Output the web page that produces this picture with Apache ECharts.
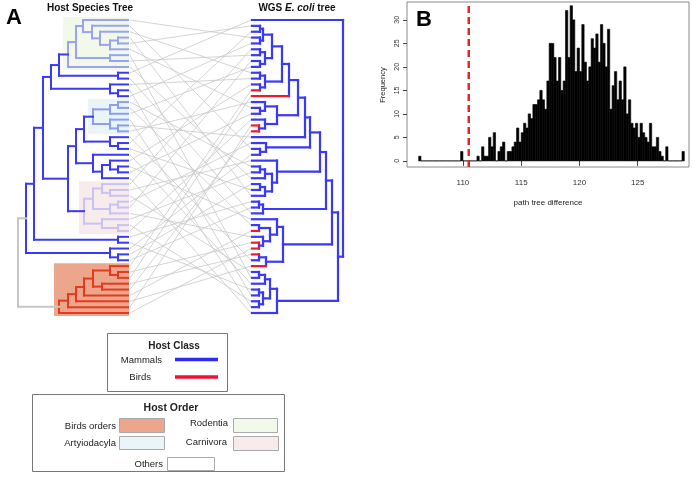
<!DOCTYPE html>
<html><head><meta charset="utf-8">
<script src="https://cdn.jsdelivr.net/npm/echarts@6/dist/echarts.min.js"></script>
<style>html,body{margin:0;padding:0;background:#fff}#c{width:696px;height:478px}</style>
</head><body><div id="c"></div>
<script>
// ---------------- DATA ----------------
// Host species tree: internal node = [depth, child, child], leaf = leaf index
const rodentia = [50, [58, [65, 0, [74, 1, [82, 2, [92, [100, 3, 4], 5]]]], [92, 6, 7]], 8];
const artiodactyla = [75, [92, [100, 14, 15], 16], [92, 17, [100, 18, 19]]];
const carnivora = [66, [75, [84, 28, [92, 29, 30]], [92, [100, 31, 32], 33]], [84, 34, [100, 35, 36]]];
const birds = [41, [50, [58, [66, [75, [92, 42, [100, 43, 44]], [84, 45, 46]], 47], 48], 49], 50];
const hostTree = [0,
  [8,
    [16,
      [25,
        [33, [41, rodentia, [100, 9, 10]], [92, 11, [100, 12, 13]]],
        [50,
          [58, [66, artiodactyla, [92, 20, [100, 21, 22]]], [75, 23, [84, [92, 24, [100, 25, 26]], 27]]],
          carnivora]],
      [100, 37, 38]],
    [92, 39, [100, 40, 41]]],
  birds];
const hostLeafDepth = 110;
const hostOrders = ['Rodentia', 'Artyiodacyla', 'Carnivora', 'Birds orders'];
const hostOrderFirstLeaf = [0, 14, 28, 42];
const hostOrderLastLeaf = [8, 19, 36, 50];
const hostOrderRootDepth = [rodentia[0], artiodactyla[0], carnivora[0], birds[0]];

// WGS E. coli tree
const ecL1 = [80, [83, 1, 2], [83, 3, 4]];
const ecL2 = [71, ecL1, [78, [83, 5, 6], [83, 7, 8]]];
const ecL3 = [61, ecL2, [78, [83, 9, 10], [83, 11, 12]]];
const ecU1 = [54, ecL3, 13];
const ecM = [66, [78, 14, [83, 15, 16]], [78, 17, [84, 18, 19]]];
const ecN5 = [33, [38, [45, ecU1, ecM], 20], [77, 21, [83, 22, 23]]];
const ecN6 = [66, 24, [71, [78, [83, 25, 26], 27], [78, [83, 28, 29], 30]]];
const ecN3 = [17, [23, ecN5, ecN6], [80, [84, 31, 32], 33]];
const ecR = [60, [66, 34, [73, [84, 35, 36], [80, 37, [84, 38, 39]]]], [77, [84, 40, 41], 42]];
const ecNB = [66, [73, [78, [84, 43, 44], 45], [80, [84, 46, 47], [84, 48, 49]]], 50];
const ecoliTree = [0, 0, [5, [11, ecN3, ecR], ecNB]];
const ecoliLeafDepth = 91;
const ecoliBirdLeaves = [12, 13, 18, 19, 36, 38, 39, 40, 42];

// host leaf i is linked to E. coli leaf hostToEcoli[i]
const hostToEcoli = [3, 22, 9, 30, 1, 15, 44, 6, 27, 0, 33, 10, 47, 4, 25, 35, 8, 49, 20, 14, 41, 2, 29, 45, 11, 34, 16, 50, 5, 24, 43, 21, 7, 37, 26, 48, 17, 31, 46, 23, 28, 32,
  12, 38, 13, 40, 19, 36, 42, 18, 39];

// Histogram (panel B)
const histStart = 106.2;
const histBinWidth = 0.2;
const histCounts = [1,0,0,0,0,0,0,0,0,0, 0,0,0,0,0,0,0,0,2,0, 0,0,0,0,0,1,0,3,1,1,
  5,3,6,0,2,3,4,0,2,2, 3,4,7,4,6,8,7,10,9,12, 12,13,15,13,11,17,25,25,22,17,
  22,15,17,32,22,33,30,19,24,19, 29,21,17,20,26,24,27,21,29,25, 20,28,11,16,19,13,17,13,20,10,
  13,8,7,8,5,8,6,5,4,8, 3,3,5,2,1,0,3,0,0,0, 0,0,0,2];
const observedDifference = 110.5;
const histXTicks = [110, 115, 120, 125];
const histYTicks = [0, 5, 10, 15, 20, 25, 30];

// ---------------- STYLE ----------------
const FONT = '"Liberation Sans", Arial, Helvetica, sans-serif';
const hostColors = {mam: '#3939f6', rod: '#98a3f2', art: '#8f9cf4', car: '#c8c3f3', bird: '#e43a22', root: '#c6c6c6'};
const ecoliColors = {mam: '#3939f6', bird: '#ee1a2c'};
const orderFill = ['#f2f8ea', '#eaf5f8', '#f8ebec', '#eca68b'];
const orderKeys = ['rod', 'art', 'car', 'bird'];

// ---------------- LAYOUT ----------------
function buildSegments(tree, leafDepth, leafKey, combine) {
  const segs = [];
  function walk(node) {
    if (typeof node === 'number') return {y: node, d: leafDepth, leaf: true, key: leafKey(node)};
    const d = node[0];
    const kids = node.slice(1).map(walk);
    let key = kids[0].key;
    for (let k = 1; k < kids.length; k++) key = combine(key, kids[k].key);
    const ys = kids.map(c => c.y);
    const y = ys.reduce((s, v) => s + v, 0) / ys.length;
    segs.push([d, Math.min(...ys), d, Math.max(...ys), key]);
    kids.forEach(c => segs.push([d, c.y, c.d, c.y, c.leaf ? c.key : key]));
    return {y, d, leaf: false, key};
  }
  walk(tree);
  return segs;
}
function hostLeafKey(i) {
  for (let k = 0; k < hostOrders.length; k++)
    if (i >= hostOrderFirstLeaf[k] && i <= hostOrderLastLeaf[k]) return orderKeys[k];
  return 'mam';
}
function hostCombine(a, b) {
  if (a === b) return a;
  if (a === 'bird' || b === 'bird' || a === 'root' || b === 'root') return 'root';
  return 'mam';
}
const hostSegs = buildSegments(hostTree, hostLeafDepth, hostLeafKey, hostCombine);
const ecoliSegs = buildSegments(ecoliTree, ecoliLeafDepth,
  i => ecoliBirdLeaves.indexOf(i) >= 0 ? 'bird' : 'mam',
  (a, b) => a === b ? a : 'mam');

function segSeries(segs, idx, colors, width) {
  return {
    type: 'custom', xAxisIndex: idx, yAxisIndex: idx, clip: false, z: 5, silent: true,
    data: segs.map(s => [s[0], s[1], s[2], s[3]]),
    encode: {x: [0, 2], y: [1, 3]},
    renderItem: (p, api) => {
      const s = segs[p.dataIndex];
      const a = api.coord([s[0], s[1]]), b = api.coord([s[2], s[3]]);
      return {type: 'line', shape: {x1: a[0], y1: a[1], x2: b[0], y2: b[1]},
        style: {stroke: colors[s[4]], lineWidth: width, lineCap: 'square'}};
    }
  };
}

const hidden = {show: false};
function hAxis(min, max, extra) { return Object.assign({type: 'value', min, max, show: false, splitLine: hidden}, extra || {}); }

const option = {
  animation: false,
  grid: [
    {left: 18, top: 20, width: 110, height: 293, show: false},
    {left: 252, top: 20, width: 91, height: 293, show: false},
    {left: 130, top: 20, width: 121, height: 293, show: false},
    {left: 407, top: 2, width: 282, height: 165, show: true, borderColor: '#8a8a8a', borderWidth: 1, backgroundColor: 'transparent'}
  ],
  xAxis: [
    hAxis(0, hostLeafDepth, {gridIndex: 0}),
    hAxis(0, ecoliLeafDepth, {gridIndex: 1, inverse: true}),
    hAxis(0, 1, {gridIndex: 2}),
    {type: 'value', gridIndex: 3, min: 105.2, max: 129.4, splitLine: hidden,
      axisLine: {show: false},
      axisTick: {show: true, customValues: histXTicks, length: 5, lineStyle: {color: '#444', width: 1}},
      axisLabel: {customValues: histXTicks, fontSize: 8, color: '#333', margin: 12, fontFamily: FONT}}
  ],
  yAxis: [
    hAxis(0, hostToEcoli.length - 1, {gridIndex: 0, inverse: true}),
    hAxis(0, hostToEcoli.length - 1, {gridIndex: 1, inverse: true}),
    hAxis(0, hostToEcoli.length - 1, {gridIndex: 2, inverse: true}),
    {type: 'value', gridIndex: 3, min: -1.3, max: 33.8, splitLine: hidden,
      axisLine: {show: false},
      axisTick: {show: true, customValues: histYTicks, length: 4, lineStyle: {color: '#444', width: 1}},
      axisLabel: {customValues: histYTicks, fontSize: 7, color: '#333', margin: 6, rotate: 90, fontFamily: FONT}}
  ],
  series: [
    // order highlight boxes
    {
      type: 'custom', xAxisIndex: 0, yAxisIndex: 0, clip: false, z: 1, silent: true,
      data: hostOrders.map((n, k) => [hostOrderRootDepth[k], hostOrderFirstLeaf[k], hostLeafDepth, hostOrderLastLeaf[k]]),
      encode: {x: [0, 2], y: [1, 3]},
      renderItem: (p, api) => {
        const a = api.coord([api.value(0), api.value(1) - 0.5]);
        const b = api.coord([api.value(2), api.value(3) + 0.5]);
        return {type: 'rect', shape: {x: a[0] - 5, y: a[1], width: b[0] - a[0] + 6, height: b[1] - a[1]},
          style: {fill: orderFill[p.dataIndex]}};
      }
    },
    // tanglegram links
    {
      type: 'custom', xAxisIndex: 2, yAxisIndex: 2, clip: false, z: 2, silent: true,
      data: hostToEcoli.map((j, i) => [i, j]),
      renderItem: (p, api) => {
        const a = api.coord([0, api.value(0)]), b = api.coord([1, api.value(1)]);
        return {type: 'line', shape: {x1: a[0], y1: a[1], x2: b[0], y2: b[1]},
          style: {stroke: '#c9c9c9', lineWidth: 0.8}};
      }
    },
    segSeries(hostSegs, 0, hostColors, 2),
    segSeries(ecoliSegs, 1, ecoliColors, 2.2),
    // histogram bars
    {
      type: 'custom', xAxisIndex: 3, yAxisIndex: 3, clip: false, z: 3, silent: true,
      data: histCounts.map((c, k) => [histStart + k * histBinWidth, c]),
      renderItem: (p, api) => {
        const x0 = api.value(0), c = api.value(1);
        const a = api.coord([x0, c]), b = api.coord([x0 + histBinWidth, 0]);
        return {type: 'rect', shape: {x: a[0], y: a[1], width: b[0] - a[0], height: b[1] - a[1]},
          style: {fill: '#000', stroke: '#000', lineWidth: 0.6}};
      }
    },
    {
      type: 'line', xAxisIndex: 3, yAxisIndex: 3, symbol: 'none', z: 4, silent: true,
      data: [[observedDifference, -1.3], [observedDifference, 33.8]],
      lineStyle: {color: '#e3262b', width: 2.5, type: [7, 4]}
    }
  ],
  graphic: [
    {type: 'text', x: 14, y: 18, style: {text: 'A', font: 'bold 22px ' + FONT, fill: '#000', textAlign: 'center', textVerticalAlign: 'middle', align: 'center', verticalAlign: 'middle'}},
    {type: 'text', x: 90, y: 8, style: {text: 'Host Species Tree', font: 'bold 10px ' + FONT, fill: '#111', textAlign: 'center', textVerticalAlign: 'middle', align: 'center', verticalAlign: 'middle'}},
    {type: 'text', x: 297, y: 8, style: {text: '{b|WGS }{i|E. coli}{b| tree}', fill: '#111', textAlign: 'center', textVerticalAlign: 'middle', align: 'center', verticalAlign: 'middle',
      rich: {b: {fontWeight: 'bold', fontSize: 10, fontFamily: FONT, fill: '#111'}, i: {fontWeight: 'bold', fontStyle: 'italic', fontSize: 10, fontFamily: FONT, fill: '#111'}}}},
    {type: 'text', x: 424, y: 20, style: {text: 'B', font: 'bold 22px ' + FONT, fill: '#000', textAlign: 'center', textVerticalAlign: 'middle', align: 'center', verticalAlign: 'middle'}},
    {type: 'text', x: 548, y: 203, style: {text: 'path tree difference', font: '8px ' + FONT, fill: '#222', textAlign: 'center', textVerticalAlign: 'middle', align: 'center', verticalAlign: 'middle'}},
    {type: 'text', x: 383, y: 85, rotation: Math.PI / 2, style: {text: 'Frequency', font: '7.5px ' + FONT, fill: '#222', textAlign: 'center', textVerticalAlign: 'middle', align: 'center', verticalAlign: 'middle'}},
    // Host Class legend
    {type: 'rect', shape: {x: 107.5, y: 333.5, width: 120, height: 58}, style: {fill: '#fff', stroke: '#777', lineWidth: 1}},
    {type: 'text', x: 174, y: 346, style: {text: 'Host Class', font: 'bold 10px ' + FONT, fill: '#222', textAlign: 'center', textVerticalAlign: 'middle', align: 'center', verticalAlign: 'middle'}},
    {type: 'text', x: 162, y: 360, style: {text: 'Mammals', font: '9.5px ' + FONT, fill: '#222', textAlign: 'right', textVerticalAlign: 'middle', align: 'right', verticalAlign: 'middle'}},
    {type: 'text', x: 151, y: 377, style: {text: 'Birds', font: '9.5px ' + FONT, fill: '#222', textAlign: 'right', textVerticalAlign: 'middle', align: 'right', verticalAlign: 'middle'}},
    {type: 'line', shape: {x1: 175, y1: 359.5, x2: 218, y2: 359.5}, style: {stroke: '#2b2bf2', lineWidth: 3.5}},
    {type: 'line', shape: {x1: 175, y1: 377, x2: 218, y2: 377}, style: {stroke: '#ee1133', lineWidth: 3.5}},
    // Host Order legend
    {type: 'rect', shape: {x: 32.5, y: 394.5, width: 252, height: 77}, style: {fill: '#fff', stroke: '#777', lineWidth: 1}},
    {type: 'text', x: 171, y: 408, style: {text: 'Host Order', font: 'bold 10.5px ' + FONT, fill: '#222', textAlign: 'center', textVerticalAlign: 'middle', align: 'center', verticalAlign: 'middle'}},
    {type: 'text', x: 116, y: 426, style: {text: hostOrders[3], font: '9.5px ' + FONT, fill: '#222', textAlign: 'right', textVerticalAlign: 'middle', align: 'right', verticalAlign: 'middle'}},
    {type: 'rect', shape: {x: 119.5, y: 418.5, width: 45, height: 14}, style: {fill: orderFill[3], stroke: '#aaa', lineWidth: 1}},
    {type: 'text', x: 116, y: 443, style: {text: hostOrders[1], font: '9.5px ' + FONT, fill: '#222', textAlign: 'right', textVerticalAlign: 'middle', align: 'right', verticalAlign: 'middle'}},
    {type: 'rect', shape: {x: 119.5, y: 436.5, width: 45, height: 13}, style: {fill: orderFill[1], stroke: '#aaa', lineWidth: 1}},
    {type: 'text', x: 228, y: 423, style: {text: hostOrders[0], font: '9.5px ' + FONT, fill: '#222', textAlign: 'right', textVerticalAlign: 'middle', align: 'right', verticalAlign: 'middle'}},
    {type: 'rect', shape: {x: 233.5, y: 418.5, width: 44, height: 14}, style: {fill: orderFill[0], stroke: '#aaa', lineWidth: 1}},
    {type: 'text', x: 227, y: 442, style: {text: hostOrders[2], font: '9.5px ' + FONT, fill: '#222', textAlign: 'right', textVerticalAlign: 'middle', align: 'right', verticalAlign: 'middle'}},
    {type: 'rect', shape: {x: 233.5, y: 436.5, width: 45, height: 14}, style: {fill: orderFill[2], stroke: '#aaa', lineWidth: 1}},
    {type: 'text', x: 163, y: 464, style: {text: 'Others', font: '9.5px ' + FONT, fill: '#222', textAlign: 'right', textVerticalAlign: 'middle', align: 'right', verticalAlign: 'middle'}},
    {type: 'rect', shape: {x: 167.5, y: 457.5, width: 47, height: 13}, style: {fill: '#fff', stroke: '#aaa', lineWidth: 1}}
  ]
};
echarts.init(document.getElementById('c'), null, {renderer: 'canvas'}).setOption(option);
</script></body></html>
